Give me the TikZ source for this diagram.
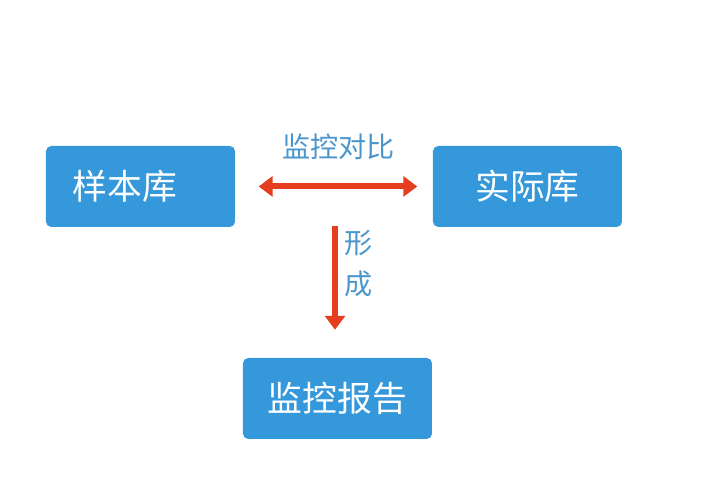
\documentclass[tikz,border=0pt]{standalone}
\usepackage{fontspec}
\newfontfamily\cjk{Noto Sans CJK SC}
\usepackage{xcolor}
\usetikzlibrary{graphs}
\usetikzlibrary{arrows.meta}
\definecolor{boxblue}{RGB}{52,152,219}
\definecolor{arrowred}{RGB}{228,62,30}
\definecolor{labblue}{RGB}{74,150,204}
\tikzset{
	box/.style={
			rectangle, rounded corners=1.5pt, fill=boxblue, draw=none, text=white,
			minimum width=1.89cm, minimum height=0.81cm,
			font=\cjk\fontsize{9.9pt}{11pt}\selectfont
		},
	flow/.style={draw=arrowred, line width=1.7pt},
	lab/.style={text=labblue, align=center, font=\cjk\fontsize{8pt}{11.7pt}\selectfont},
	>={Triangle[length=0.14cm,width=0.2cm]}
}

\begin{document}
\begin{tikzpicture}
			\useasboundingbox (0,0) rectangle (7.12,4.89);
			\graph[no placement, nodes={box}]{
				sample/样本库[at={(1.405,3.025)}, text width=1.35cm, inner xsep=0.27cm, align=left];
				actual/实际库[at={(5.275,3.025)}];
				report/监控报告[at={(3.375,0.905)}];
			};
			\coordinate (split) at (3.35,2.63);

			\draw[flow, <->, shorten <=0.23cm, shorten >=0.15cm] (sample) -- (actual)
				node[lab, midway, yshift=0.4cm, xshift=0.045cm] (cmp) {监控对比};
			\draw[flow, ->, shorten >=0.275cm] (split) -- (split |- report.north)
				node[lab, pos=0.29, xshift=0.235cm] (form) {形\\成};
		\end{tikzpicture}
\end{document}
